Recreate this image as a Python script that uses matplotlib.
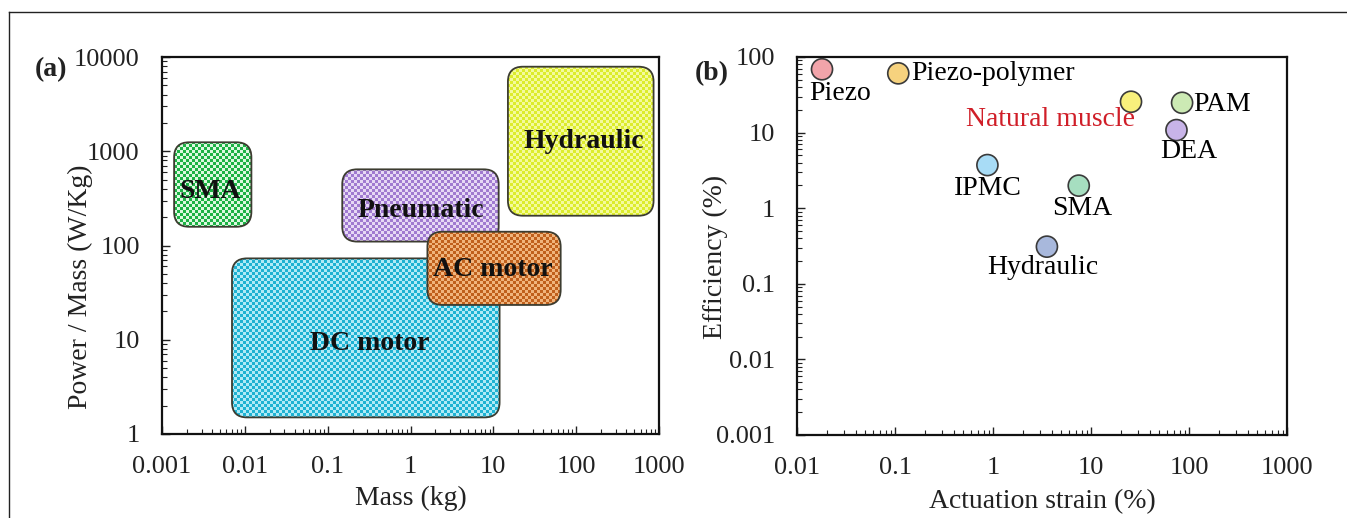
import numpy as np
import matplotlib
matplotlib.use('Agg')
import matplotlib.pyplot as plt
from matplotlib.patches import FancyBboxPatch
from matplotlib.colors import to_rgb
from matplotlib.lines import Line2D
from matplotlib.ticker import LogLocator, NullFormatter

plt.rcParams['font.family'] = ['Liberation Serif', 'DejaVu Serif']

# ---------------- data: panel (a) ----------------
actuators_a = ['DC motor', 'SMA', 'Pneumatic', 'Hydraulic', 'AC motor']
mass_min = [0.007, 0.0014, 0.15, 15.0, 1.6]
mass_max = [11.9, 0.012, 11.6, 860.0, 65.0]
pm_min = [1.5, 158.0, 110.0, 207.0, 23.4]
pm_max = [73.0, 1245.0, 643.0, 7890.0, 140.0]
label_mass = [0.32, 0.0038, 1.34, 124.0, 9.9]
label_pm = [9.2, 370.0, 238.0, 1262.0, 55.0]

xticks_a = [0.001, 0.01, 0.1, 1, 10, 100, 1000]
xticklabels_a = ['0.001', '0.01', '0.1', '1', '10', '100', '1000']
yticks_a = [1, 10, 100, 1000, 10000]
yticklabels_a = ['1', '10', '100', '1000', '10000']

# ---------------- data: panel (b) ----------------
actuators_b = ['Piezo', 'Piezo-polymer', 'Natural muscle', 'PAM', 'DEA',
               'IPMC', 'SMA', 'Hydraulic']
strain = [0.018, 0.108, 25.6, 85.0, 74.5, 0.877, 7.5, 3.55]
efficiency = [68.8, 60.8, 25.6, 24.8, 10.8, 3.72, 1.99, 0.31]

xticks_b = [0.01, 0.1, 1, 10, 100, 1000]
xticklabels_b = ['0.01', '0.1', '1', '10', '100', '1000']
yticks_b = [0.001, 0.01, 0.1, 1, 10, 100]
yticklabels_b = ['0.001', '0.01', '0.1', '1', '10', '100']

# ---------------- styles ----------------
box_dark = {'DC motor': '#1eb2d2', 'SMA': '#1cb244', 'Pneumatic': '#a07ad0',
            'Hydraulic': '#dcec2c', 'AC motor': '#c0601c'}
box_light = {'DC motor': '#b0eaf6', 'SMA': '#dcf8e0', 'Pneumatic': '#e6d8f4',
             'Hydraulic': '#f4fa9c', 'AC motor': '#f0b47c'}
pt_colors = ['#f2a4aa', '#f6d27e', '#f8f07c', '#cceab4', '#c8b4e8',
             '#a8dcf6', '#a6dec0', '#a8b8dc']
label_colors = ['black', 'black', '#d01e28', 'black', 'black', 'black', 'black', 'black']
# label offsets (points) and alignment
label_offsets = [(12.8, -17.3), (9.1, 0), (-58.2, -12.5), (8.2, -1.5),
                 (8.9, -15.6), (0, -16.8), (2.2, -16.3), (-3.0, -14.8)]
label_ha = ['center', 'left', 'center', 'left', 'center', 'center', 'center', 'center']

W_FIG, H_FIG = 1347, 518
fig = plt.figure(figsize=(W_FIG / 100, H_FIG / 100), dpi=100)

def px_axes(x0, x1, y0, y1):
    return [x0 / W_FIG, 1 - y1 / H_FIG, (x1 - x0) / W_FIG, (y1 - y0) / H_FIG]

ax1 = fig.add_axes(px_axes(162, 659, 57, 434))
ax2 = fig.add_axes(px_axes(797, 1287, 57, 435))


def style_axes(ax, xlim, ylim, xt, xtl, yt, ytl):
    ax.set_xscale('log')
    ax.set_yscale('log')
    ax.set_xlim(*xlim)
    ax.set_ylim(*ylim)
    ax.set_xticks(xt)
    ax.set_xticklabels(xtl)
    ax.set_yticks(yt)
    ax.set_yticklabels(ytl)
    for axis in (ax.xaxis, ax.yaxis):
        axis.set_minor_locator(LogLocator(base=10, subs=np.arange(2, 10), numticks=100))
        axis.set_minor_formatter(NullFormatter())
    ax.tick_params(which='both', direction='in', top=False, right=False,
                   labelsize=19, pad=16, colors='#222222')
    ax.tick_params(which='major', length=6, width=1.0)
    ax.tick_params(which='minor', length=3.5, width=0.8)
    for s in ax.spines.values():
        s.set_linewidth(1.6)
        s.set_color('#111111')


style_axes(ax1, (1e-3, 1e3), (1, 1e4), xticks_a, xticklabels_a, yticks_a, yticklabels_a)
style_axes(ax2, (1e-2, 1e3), (1e-3, 1e2), xticks_b, xticklabels_b, yticks_b, yticklabels_b)


def checker_box(ax, x0, x1, y0, y1, dark, light, zorder):
    to_axes = ax.transData + ax.transAxes.inverted()
    (a0, b0), (a1, b1) = to_axes.transform([(x0, y0), (x1, y1)])
    W, H = ax.bbox.width, ax.bbox.height
    patch = FancyBboxPatch((a0, b0), a1 - a0, b1 - b0,
                           boxstyle=f"round,pad=0,rounding_size={15 / W}",
                           mutation_aspect=W / H, transform=ax.transAxes,
                           facecolor='none', edgecolor='#3c3c30', lw=1.3,
                           zorder=zorder + 0.1)
    ax.add_patch(patch)
    cell = 3
    nx, ny = int(round(W / cell)), int(round(H / cell))
    ii, jj = np.indices((ny, nx))
    m = ((ii + jj) % 2 == 0)[..., None]
    img = np.where(m, np.array(to_rgb(dark)), np.array(to_rgb(light)))
    im = ax.imshow(img, extent=[0, 1, 0, 1], transform=ax.transAxes,
                   interpolation='nearest', aspect='auto', zorder=zorder)
    im.set_clip_path(patch)


for i, name in enumerate(actuators_a):
    checker_box(ax1, mass_min[i], mass_max[i], pm_min[i], pm_max[i],
                box_dark[name], box_light[name], zorder=2 + i)
    ax1.text(label_mass[i], label_pm[i], name, fontsize=20, fontweight='bold',
             ha='center', va='center', color='#111111', zorder=20)

ax1.set_xlim(1e-3, 1e3)
ax1.set_ylim(1, 1e4)

ax1.set_xlabel('Mass (kg)', fontsize=20, color='#222222')
ax1.set_ylabel('Power / Mass (W/Kg)', fontsize=20, color='#222222')
ax1.xaxis.set_label_coords(0.5, -0.138)
ax1.yaxis.set_label_coords(-0.139, 0.39)

# panel (b)
ax2.scatter(strain, efficiency, s=230, c=pt_colors, edgecolors='#3a3a3a',
            linewidths=1.2, zorder=3)
for i, name in enumerate(actuators_b):
    ax2.annotate(name, (strain[i], efficiency[i]), xytext=label_offsets[i],
                 textcoords='offset points', fontsize=20, ha=label_ha[i],
                 va='center', color=label_colors[i], zorder=5)

ax2.set_xlabel('Actuation strain (%)', fontsize=20, color='#222222')
ax2.set_ylabel('Efficiency (%)', fontsize=20, color='#222222')
ax2.xaxis.set_label_coords(0.5, -0.143)
ax2.yaxis.set_label_coords(-0.141, 0.472)

# panel tags
fig.text(51 / W_FIG, 1 - 70 / H_FIG, '(a)', fontsize=20, fontweight='bold',
         ha='center', va='center', color='#222222')
fig.text(712 / W_FIG, 1 - 74 / H_FIG, '(b)', fontsize=20, fontweight='bold',
         ha='center', va='center', color='#222222')

# frame lines of the figure
fig.add_artist(Line2D([9 / W_FIG, 1], [1 - 12 / H_FIG, 1 - 12 / H_FIG],
                      transform=fig.transFigure, color='#222222', lw=1.0))
fig.add_artist(Line2D([9 / W_FIG, 9 / W_FIG], [0, 1 - 12 / H_FIG],
                      transform=fig.transFigure, color='#222222', lw=1.0))

fig.savefig('out.png', dpi=100, facecolor='white')
